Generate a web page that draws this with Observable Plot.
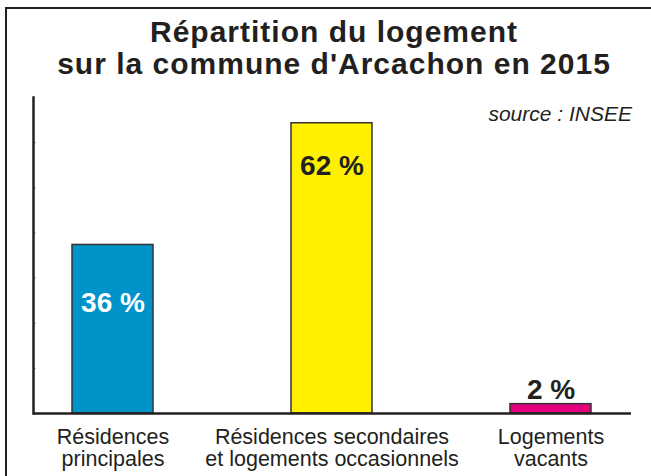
<!DOCTYPE html>
<html>
<head>
<meta charset="utf-8">
<script src="https://cdn.jsdelivr.net/npm/d3@7"></script>
<script src="https://cdn.jsdelivr.net/npm/@observablehq/plot@0.6"></script>
<style>
  html, body { margin: 0; padding: 0; background: #fff; }
  #wrap { position: relative; width: 651px; height: 476px; overflow: hidden; font-family: "Liberation Sans", Arial, sans-serif; color: #231f20; }
  #border { position: absolute; left: 5px; top: 7px; width: 720px; height: 600px; border: 2.5px solid #231f20; box-sizing: border-box; }
  .title { position: absolute; left: 0; width: 668px; text-align: center; font-weight: bold; font-size: 30px; line-height: 32px; letter-spacing: 1px; white-space: nowrap; }
  #source { position: absolute; right: 19px; top: 104px; font-size: 21px; line-height: 20px; font-style: italic; white-space: nowrap; }
  #chart { position: absolute; left: 0; top: 0; }
</style>
</head>
<body>
<div id="wrap">
  <div id="border"></div>
  <div id="chart"></div>
  <div class="title" style="top:16px">Répartition du logement</div>
  <div class="title" style="top:48px">sur la commune d'Arcachon en 2015</div>
  <div id="source">source : INSEE</div>
</div>
<script>
const categories = ["Résidences principales", "Résidences secondaires et logements occasionnels", "Logements vacants"];
const tickLabels = ["Résidences\nprincipales", "Résidences secondaires\net logements occasionnels", "Logements\nvacants"];
const values = [36, 62, 2];
const valueLabels = ["36 %", "62 %", "2 %"];
const colors = ["#0093c9", "#fff000", "#e5007e"];
const yMax = 67.5;
const yTicks = d3.range(1, 7).map(k => k * yMax / 7);

const data = categories.map((c, i) => ({cat: c, value: values[i], label: valueLabels[i], tick: tickLabels[i]}));

const chart = Plot.plot({
  width: 651,
  height: 476,
  marginTop: 97,
  marginBottom: 63,
  marginLeft: 33,
  marginRight: 20,
  style: {fontFamily: "'Liberation Sans', Arial, sans-serif", background: "transparent", overflow: "visible"},
  x: {domain: categories, paddingInner: 0.63, paddingOuter: 0.18, axis: null},
  y: {domain: [0, yMax], axis: null},
  color: {domain: categories, range: colors},
  marks: [
    Plot.axisY({ticks: yTicks, tickSize: -3, tickFormat: () => "", stroke: "#aaa", strokeWidth: 1, label: null, anchor: "left"}),
    Plot.barY(data, {x: "cat", y: "value", fill: "cat", stroke: "#333", strokeWidth: 1.5}),
    Plot.ruleY([0], {stroke: "#231f20", strokeWidth: 2.5}),
    Plot.frame({anchor: "left", stroke: "#231f20", strokeWidth: 2.5}),
    Plot.text(data.filter((d, i) => i === 0), {x: "cat", y: "value", text: "label", dy: 58, fill: "#fff", fontWeight: "bold", fontSize: 28}),
    Plot.text(data.filter((d, i) => i === 1), {x: "cat", y: "value", text: "label", dy: 43, fill: "#231f20", fontWeight: "bold", fontSize: 28}),
    Plot.text(data.filter((d, i) => i === 2), {x: "cat", y: "value", text: "label", dy: -14, fill: "#231f20", fontWeight: "bold", fontSize: 28}),
    Plot.text(data, {x: "cat", text: "tick", frameAnchor: "bottom", lineAnchor: "top", dy: 15, fontSize: 21.5, lineHeight: 1.03, fill: "#231f20"})
  ]
});
document.getElementById("chart").appendChild(chart);
</script>
</body>
</html>
